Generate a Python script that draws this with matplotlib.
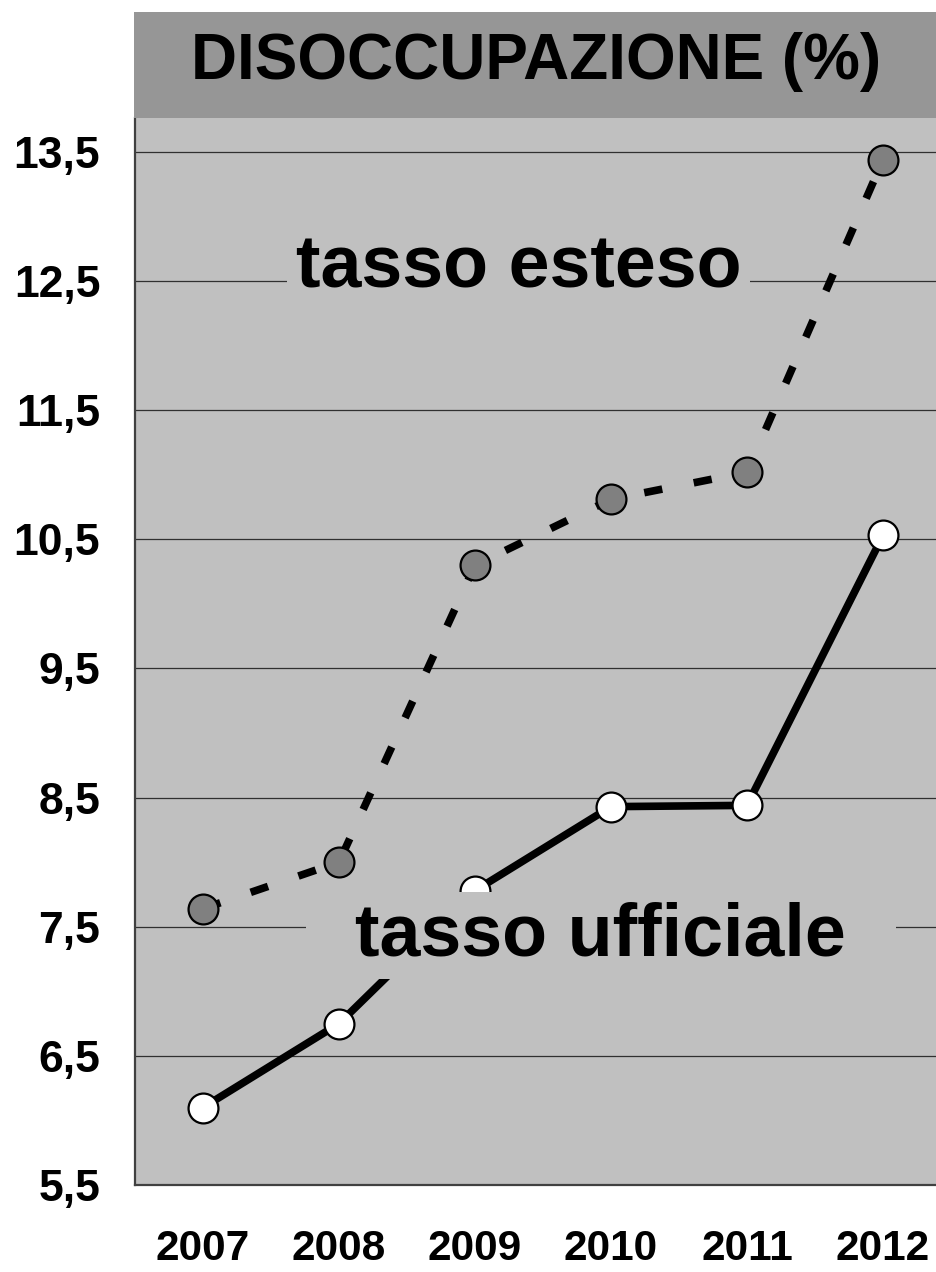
import matplotlib
matplotlib.use("Agg")
import matplotlib.pyplot as plt
import numpy as np

plt.rcParams['font.family'] = ['Liberation Sans', 'DejaVu Sans']
plt.rcParams['font.weight'] = 'bold'

years = ["2007", "2008", "2009", "2010", "2011", "2012"]
tasso_esteso = [7.64, 8.0, 10.3, 10.81, 11.02, 13.44]
tasso_ufficiale = [6.1, 6.75, 7.78, 8.43, 8.44, 10.53]
yticks = [5.5, 6.5, 7.5, 8.5, 9.5, 10.5, 11.5, 12.5, 13.5]
ytick_labels = ["5,5", "6,5", "7,5", "8,5", "9,5", "10,5", "11,5", "12,5", "13,5"]
title = "DISOCCUPAZIONE (%)"

W, H = 937, 1272
fig = plt.figure(figsize=(W / 100, H / 100), dpi=100)
fig.patch.set_facecolor('white')

# main axes
ax = fig.add_axes([135 / W, (H - 1185) / H, 816 / W, (1185 - 118) / H])
ax.set_facecolor('#C0C0C0')
x = np.arange(len(years))
ax.set_xlim(-0.5, 5.5)
ax.set_ylim(5.5, 13.763)

ax.set_yticks(yticks)
ax.set_yticklabels(ytick_labels, fontsize=32, fontweight='bold')
ax.set_xticks(x)
ax.set_xticklabels(years, fontsize=30.5, fontweight='bold')
ax.tick_params(axis='y', length=0, pad=25)
ax.tick_params(axis='x', length=0, pad=32)
ax.grid(axis='y', color='#303030', linewidth=0.9, zorder=1)
ax.set_axisbelow(True)
for s in ['top', 'right']:
    ax.spines[s].set_visible(False)
for s in ['left', 'bottom']:
    ax.spines[s].set_color('#404040')
    ax.spines[s].set_linewidth(1.6)

ax.plot(x, tasso_esteso, color='black', linewidth=5.5,
        linestyle=(0, (2.4, 4.2)), dash_capstyle='butt',
        marker='o', markersize=21.5, markerfacecolor='#808080',
        markeredgecolor='black', markeredgewidth=1.6, zorder=3)
ax.plot(x, tasso_ufficiale, color='black', linewidth=5.5,
        marker='o', markersize=21.5, markerfacecolor='white',
        markeredgecolor='black', markeredgewidth=1.6, zorder=3)

ax.text(2.32, 12.447, "tasso esteso", fontsize=53, fontweight='bold',
        ha='center', va='baseline', zorder=5,
        bbox=dict(boxstyle='square,pad=0.12', facecolor='#C0C0C0', edgecolor='none'))
ax.text(2.925, 7.281, "  tasso ufficiale  ", fontsize=53, fontweight='bold',
        ha='center', va='baseline', zorder=5,
        bbox=dict(boxstyle='square,pad=0.12', facecolor='#C0C0C0', edgecolor='none'))

# title box
tax = fig.add_axes([134 / W, (H - 118) / H, 820 / W, 106 / H])
tax.set_facecolor('#969696')
tax.set_xticks([])
tax.set_yticks([])
for s in tax.spines.values():
    s.set_visible(False)
fig.text(536 / W, 1 - 79 / H, title, fontsize=46, fontweight='bold',
         ha='center', va='baseline')

fig.savefig("out.png", dpi=100)
